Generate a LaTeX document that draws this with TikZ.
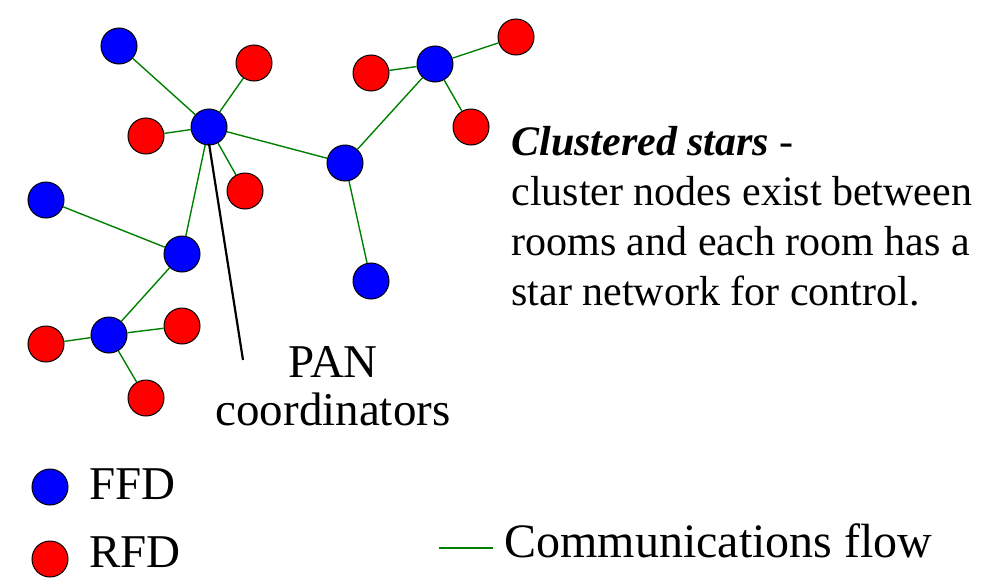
\documentclass[tikz,border=0pt]{standalone}
\usepackage{fontspec}
\setmainfont{Liberation Serif}
\begin{document}
\begin{tikzpicture}[x=0.5pt,y=-0.5pt]
        \tikzstyle{device}=[
            circle,draw=black,line width=0.5pt,minimum size=18pt,inner sep=0pt
        ]
        \tikzstyle{ffd}=[device, fill=blue];
        \tikzstyle{rfd}=[device, fill=red];
        \tikzstyle{flow}=[draw=green!50!black, line width=0.7pt]
        \tikzstyle{annot}=[font=\fontsize{23.5}{24}\selectfont, inner sep=0pt]

        \useasboundingbox (0,0) rectangle (1000,578);

        % Draw the full function devices
        \foreach \id / \x / \y in {1/119/46, 2/209/127, 3/435/64, 4/345/163,
                                   5/46/200, 6/182/254, 7/371/281, 8/109/335}
            \node[ffd] (F-\id) at (\x,\y) {};

        % Draw the reduced function devices
        \foreach \id / \x / \y in {1/254/63, 2/371/73, 3/516/37, 4/146/136,
                                   5/471/127, 6/245/191, 7/46/344, 8/182/326, 9/146/398}
            \node[rfd] (R-\id) at (\x,\y) {};

        % Connect every star centre with its devices and the other centres
        \foreach \source / \dest in {F-2/F-1, F-2/R-1, F-2/R-4, F-2/R-6, F-2/F-4,
                                     F-2/F-6, F-4/F-3, F-3/R-2, F-3/R-3, F-3/R-5,
                                     F-4/F-7, F-6/F-5, F-6/F-8, F-8/R-7, F-8/R-8, F-8/R-9}
            \draw[flow] (\source) -- (\dest);

        % Point at the PAN coordinator
        \coordinate (pan-end) at (243,360);
        \draw[line width=1.1pt] ([yshift=1pt]F-2.south) -- (pan-end);
        \node[annot, align=center, anchor=base] (pan) at (333,425) {PAN\\coordinators};

        % Describe the topology
        \node[anchor=base west, align=left, inner sep=0pt,
              font=\fontsize{21}{25}\selectfont] (desc) at (511,305)
            {\textbf{\textit{Clustered stars}} -\\cluster nodes exist between\\rooms and each room has a\\star network for control.};

        % Legend
        \node[ffd] (key-F) at (50,487) {};
        \node[annot, anchor=base west] (key-F-text) at (89,499) {FFD};
        \node[rfd] (key-R) at (50,559) {};
        \node[annot, anchor=base west] (key-R-text) at (89,567) {RFD};
        \coordinate (key-a) at (439,548);
        \coordinate (key-b) at (493,548);
        \draw[flow] (key-a) -- (key-b);
        \node[annot, anchor=base west, font=\fontsize{24}{24}\selectfont] (key-flow) at (504,557) {Communications flow};
    \end{tikzpicture}
\end{document}
